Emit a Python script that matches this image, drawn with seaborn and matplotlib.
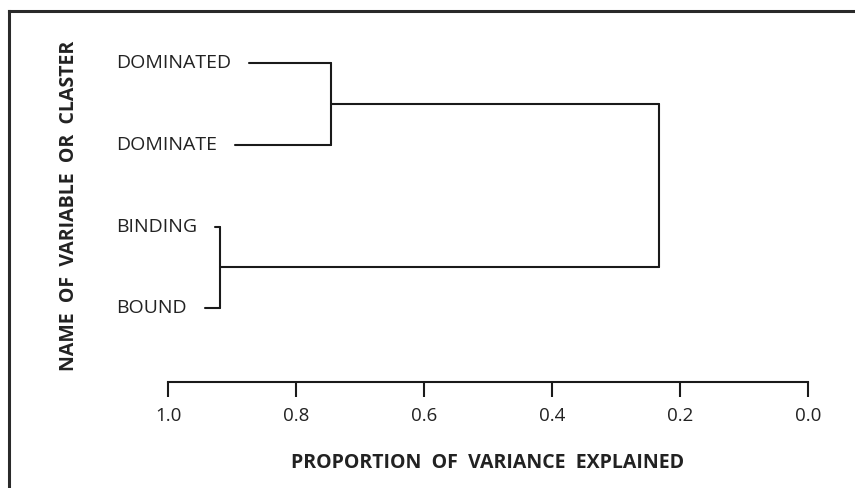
import numpy as np
import pandas as pd
import matplotlib
matplotlib.use("Agg")
import matplotlib.pyplot as plt
from matplotlib.lines import Line2D
import seaborn as sns

# --------------------------------------------
# Data: leaves and cluster joins (proportion of variance explained)
# --------------------------------------------
leaves = ["DOMINATED", "DOMINATE", "BINDING", "BOUND"]
join_left = [0, 2, 4]      # node ids (0-3 leaves, 4+ joins)
join_right = [1, 3, 5]
join_height = [0.745, 0.918, 0.233]
x_ticks = [1.0, 0.8, 0.6, 0.4, 0.2, 0.0]
x_label = "PROPORTION  OF  VARIANCE  EXPLAINED"
y_label = "NAME  OF  VARIABLE  OR  CLASTER"

sns.set_style("white")
plt.rcParams["font.family"] = ["Open Sans", "DejaVu Sans"]

W, H = 855, 488
fig = plt.figure(figsize=(W / 100, H / 100), dpi=100)
ax = fig.add_axes([168 / W, 1 - 382 / H, (808 - 168) / W, (382 - 22) / H])
ax.set_xlim(1.0, 0.0)
ax.set_ylim(3.9, -0.5)

# node positions
node_y = {i: float(i) for i in range(len(leaves))}
node_x = {i: None for i in range(len(leaves))}
segs = []
for k, (a, b, h) in enumerate(zip(join_left, join_right, join_height)):
    nid = len(leaves) + k
    for child in (a, b):
        if node_x[child] is not None:
            segs.append((node_x[child], node_y[child], h, node_y[child]))
    segs.append((h, node_y[a], h, node_y[b]))
    node_x[nid] = h
    node_y[nid] = (node_y[a] + node_y[b]) / 2

# leaf labels, then leader lines from the end of each label
fig.canvas.draw()
renderer = fig.canvas.get_renderer()
leaf_parent = {}
for k, (a, b, h) in enumerate(zip(join_left, join_right, join_height)):
    leaf_parent[a] = h
    leaf_parent[b] = h
inv = ax.transData.inverted()
for i, name in enumerate(leaves):
    yy = ax.transData.transform((0.5, i))[1]
    t = fig.text(116 / W, yy / H, name, ha="left", va="center",
                 fontsize=14, color="#222222")
    bb = t.get_window_extent(renderer)
    x0 = inv.transform((bb.x1 + 18, yy))[0]
    segs.append((x0, i, leaf_parent[i], i))

rows = []
for s, (x1, y1, x2, y2) in enumerate(segs):
    rows.append({"seg": s, "x": x1, "y": y1})
    rows.append({"seg": s, "x": x2, "y": y2})
df = pd.DataFrame(rows)
sns.lineplot(data=df, x="x", y="y", units="seg", estimator=None, sort=False,
             color="#1a1a1a", lw=1.5, ax=ax, legend=False)

ax.set_xlim(1.0, 0.0)
ax.set_ylim(3.9, -0.5)
ax.set_xticks(x_ticks)
ax.set_xticklabels([f"{v:.1f}" for v in x_ticks], fontsize=13.5, color="#222222")
ax.set_yticks([])
ax.set_xlabel("")
ax.set_ylabel("")
ax.tick_params(axis="x", direction="out", length=11, width=1.5, pad=7,
               color="#1a1a1a", bottom=True)
for side in ["top", "right", "left"]:
    ax.spines[side].set_visible(False)
ax.spines["bottom"].set_linewidth(1.5)
ax.spines["bottom"].set_color("#1a1a1a")

fig.text(488 / W, 1 - 463 / H, x_label, ha="center", va="center",
         fontsize=14, fontweight="bold", color="#222222")
fig.text(69 / W, 1 - 206 / H, y_label, ha="center", va="center", rotation=90,
         fontsize=14, fontweight="bold", color="#222222")

# frame around the figure (left and top edges visible)
fig.add_artist(Line2D([9 / W, 9 / W], [0, 1 - 11 / H], transform=fig.transFigure,
                      color="#2a2a2a", lw=2.2, solid_capstyle="projecting"))
fig.add_artist(Line2D([9 / W, 1], [1 - 11 / H, 1 - 11 / H], transform=fig.transFigure,
                      color="#2a2a2a", lw=2.2, solid_capstyle="projecting"))

fig.savefig("out.png", dpi=100)
